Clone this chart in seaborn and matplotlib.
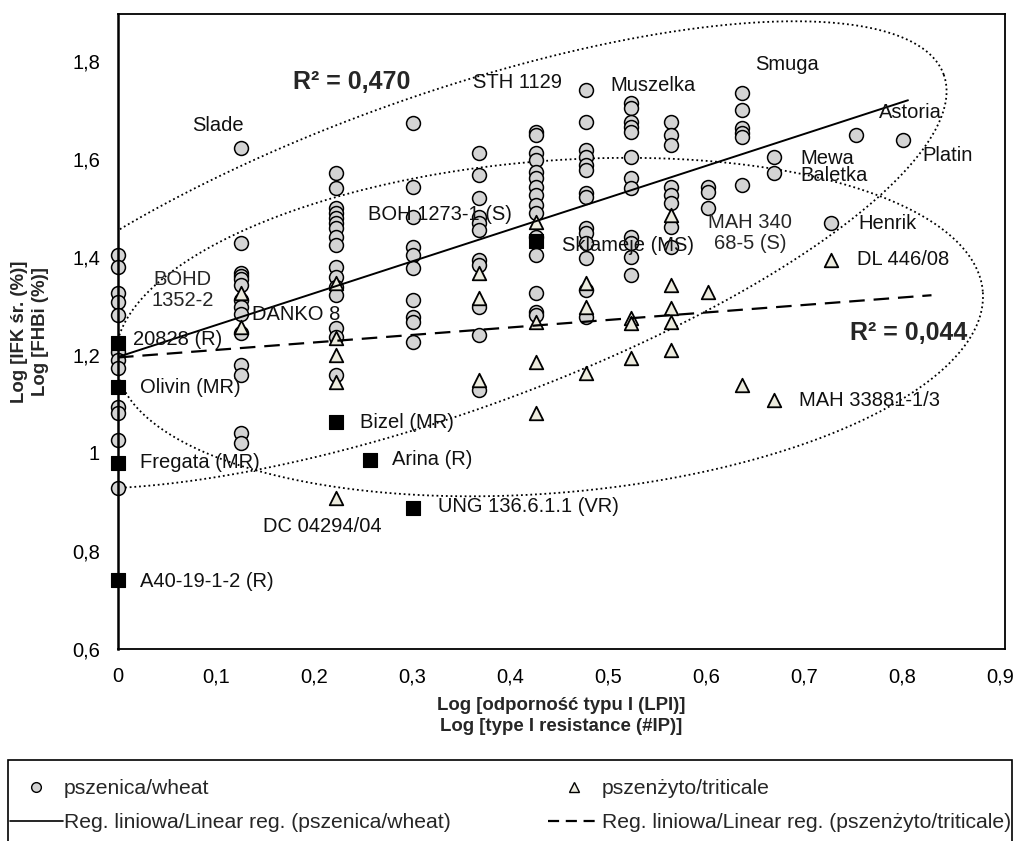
import numpy as np
import pandas as pd
import matplotlib
matplotlib.use("Agg")
import matplotlib.pyplot as plt
from matplotlib import font_manager
from matplotlib.lines import Line2D
from matplotlib.patches import Rectangle
from matplotlib.ticker import FuncFormatter, MultipleLocator
import seaborn as sns

# wheat: x levels and the y values read in each column
wheat_x_levels = [0, 0.125, 0.222, 0.301, 0.368, 0.426, 0.477, 0.523, 0.564,
                  0.602, 0.637, 0.669, 0.727, 0.753, 0.801]
wheat_y = [
    [1.404, 1.380, 1.327, 1.308, 1.282, 1.206, 1.190, 1.173, 1.094, 1.082, 1.027, 0.929],
    [1.622, 1.429, 1.367, 1.362, 1.355, 1.343, 1.312, 1.298, 1.284, 1.245, 1.180, 1.159, 1.041, 1.020],
    [1.571, 1.541, 1.500, 1.490, 1.480, 1.469, 1.459, 1.441, 1.424, 1.380, 1.359, 1.339, 1.322, 1.255, 1.237, 1.159],
    [1.673, 1.543, 1.482, 1.420, 1.404, 1.378, 1.312, 1.278, 1.267, 1.227],
    [1.612, 1.567, 1.520, 1.482, 1.469, 1.455, 1.394, 1.384, 1.298, 1.241, 1.129],
    [1.655, 1.649, 1.612, 1.598, 1.573, 1.561, 1.543, 1.527, 1.506, 1.490, 1.441, 1.404, 1.327, 1.288, 1.282],
    [1.741, 1.676, 1.618, 1.604, 1.588, 1.578, 1.531, 1.522, 1.459, 1.449, 1.429, 1.398, 1.333, 1.278],
    [1.714, 1.704, 1.676, 1.665, 1.655, 1.604, 1.561, 1.541, 1.441, 1.429, 1.400, 1.363],
    [1.676, 1.649, 1.629, 1.543, 1.527, 1.510, 1.461, 1.420],
    [1.543, 1.533, 1.500],
    [1.735, 1.700, 1.663, 1.653, 1.645, 1.547],
    [1.604, 1.571],
    [1.469],
    [1.649],
    [1.639],
]

# triticale
trit_x_levels = [0.125, 0.222, 0.368, 0.426, 0.477, 0.523, 0.564, 0.602, 0.637, 0.669, 0.727]
trit_y = [
    [1.327, 1.257],
    [1.347, 1.235, 1.200, 1.145, 0.908],
    [1.367, 1.316, 1.149],
    [1.471, 1.267, 1.186, 1.082],
    [1.347, 1.298, 1.163],
    [1.276, 1.265, 1.194],
    [1.486, 1.343, 1.296, 1.267, 1.210],
    [1.329],
    [1.139],
    [1.108],
    [1.394],
]

# reference genotypes (black squares)
ref_x = [0, 0, 0, 0, 0.222, 0.257, 0.301, 0.426]
ref_y = [1.224, 1.135, 0.980, 0.741, 1.063, 0.986, 0.888, 1.432]

# linear fits: intercept, slope, x range
wheat_fit = [1.196, 0.65]
wheat_fit_range = [0, 0.806]
trit_fit = [1.195, 0.153]
trit_fit_range = [0, 0.83]

wheat = pd.DataFrame({"x": np.repeat(wheat_x_levels, [len(v) for v in wheat_y]),
                      "y": np.concatenate(wheat_y)})
trit = pd.DataFrame({"x": np.repeat(trit_x_levels, [len(v) for v in trit_y]),
                     "y": np.concatenate(trit_y)})
refs = pd.DataFrame({"x": ref_x, "y": ref_y})

sns.set_style("white")
names = {f.name for f in font_manager.fontManager.ttflist}
narrow = "Liberation Sans Narrow" if "Liberation Sans Narrow" in names else "Liberation Sans"
plt.rcParams["font.family"] = ["Liberation Sans", "DejaVu Sans"]

fig = plt.figure(figsize=(10.2, 8.41), dpi=100)
ax = fig.add_axes([0.1157, 0.2283, 0.8696, 0.7551])
ax.set_xlim(0, 0.905)
ax.set_ylim(0.6, 1.896)

wheat_fill = "#d4d4d4"
trit_fill = "#ecebde"

sns.scatterplot(data=wheat, x="x", y="y", marker="o", s=100, color=wheat_fill,
                edgecolor="black", linewidth=1.1, ax=ax, zorder=3, clip_on=False)
sns.scatterplot(data=trit, x="x", y="y", marker="^", s=95, color=trit_fill,
                edgecolor="black", linewidth=1.3, ax=ax, zorder=4, clip_on=False)
sns.scatterplot(data=refs, x="x", y="y", marker="s", s=95, color="black",
                edgecolor="black", linewidth=0.8, ax=ax, zorder=5, clip_on=False)

fx = np.array(wheat_fit_range)
ax.plot(fx, wheat_fit[0] + wheat_fit[1] * fx, color="black", lw=1.4, zorder=6)
tx = np.array(trit_fit_range)
ax.plot(tx, trit_fit[0] + trit_fit[1] * tx, color="black", lw=1.6,
        linestyle=(0, (7, 4)), zorder=6)

# dotted ellipses, defined in pixel units so that the tilt looks right
sx = 0.8696 * 1020 / 0.905
sy = 0.7551 * 841 / (1.896 - 0.6)


def ellipse(cx, cy, a, b, ang):
    t = np.linspace(0, 2 * np.pi, 400)
    th = np.deg2rad(ang)
    ex = cx + (a * np.cos(t) * np.cos(th) - b * np.sin(t) * np.sin(th)) / sx
    ey = cy + (a * np.cos(t) * np.sin(th) + b * np.sin(t) * np.cos(th)) / sy
    return ex, ey


for c in [(0.3286, 1.404, 535, 158, 19.7), (0.440, 1.257, 435, 166, 4.7)]:
    ex, ey = ellipse(*c)
    ax.plot(ex, ey, color="black", lw=1.3, linestyle=(0, (1, 1.6)), zorder=2)

labels = [
    ("Slade", 0.0755, 1.669), ("STH 1129", 0.362, 1.757), ("Muszelka", 0.502, 1.751),
    ("Smuga", 0.650, 1.792), ("Astoria", 0.776, 1.694), ("Mewa", 0.696, 1.602),
    ("Baletka", 0.696, 1.567), ("Platin", 0.821, 1.608), ("Henrik", 0.755, 1.469),
    ("DL 446/08", 0.754, 1.394), ("MAH 33881-1/3", 0.695, 1.108),
    ("Sklameje (MS)", 0.453, 1.424), ("BOH 1273-1 (S)", 0.255, 1.486),
    ("DANKO 8", 0.137, 1.282), ("20828 (R)", 0.015, 1.231), ("Olivin (MR)", 0.022, 1.133),
    ("Fregata (MR)", 0.022, 0.980), ("A40-19-1-2 (R)", 0.022, 0.737),
    ("Bizel (MR)", 0.247, 1.063), ("Arina (R)", 0.280, 0.986),
    ("UNG 136.6.1.1 (VR)", 0.326, 0.890), ("DC 04294/04", 0.148, 0.849),
]
for txt, x, y in labels:
    ax.text(x, y, txt, fontsize=14.5, ha="left", va="center", color="#111111", zorder=7)
ax.text(0.066, 1.333, "BOHD\n1352-2", fontsize=14.5, ha="center", va="center",
        linespacing=1.1, zorder=7)
ax.text(0.645, 1.449, "MAH 340\n68-5 (S)", fontsize=14.5, ha="center", va="center",
        linespacing=1.1, zorder=7)
ax.text(0.179, 1.757, "R² = 0,470", fontsize=18, fontweight="bold", ha="left", va="center")
ax.text(0.747, 1.245, "R² = 0,044", fontsize=18, fontweight="bold", ha="left", va="center")

ax.xaxis.set_major_locator(MultipleLocator(0.1))
ax.yaxis.set_major_locator(MultipleLocator(0.2))
comma = FuncFormatter(lambda v, p: f"{round(v, 2):g}".replace(".", ","))
ax.xaxis.set_major_formatter(comma)
ax.yaxis.set_major_formatter(comma)
ax.tick_params(direction="inout", length=10, width=1.2, labelsize=14.5, colors="black")
ax.tick_params(axis="x", pad=8)
ax.tick_params(axis="y", pad=8)
for s in ax.spines.values():
    s.set_color("black")
    s.set_linewidth(1.3)
ax.spines["left"].set_linewidth(1.8)
ax.spines["left"].set_zorder(8)

ax.set_xlabel("Log [odporność typu I (LPI)]\nLog [type I resistance (#IP)]",
              fontsize=13.4, fontweight="bold", family=[narrow, "DejaVu Sans"],
              va="center", linespacing=1.3)
ax.xaxis.set_label_coords(0.5, -0.1055)
ax.set_ylabel("Log [IFK śr. (%)]\nLog [FHBi (%)]", fontsize=13.4, fontweight="bold",
              family=[narrow, "DejaVu Sans"], va="center", ha="center", linespacing=1.3)
ax.yaxis.set_label_coords(-0.099, 0.5)

handles = [
    Line2D([], [], marker="o", linestyle="none", markersize=7, markerfacecolor=wheat_fill,
           markeredgecolor="black", markeredgewidth=1.0),
    Line2D([], [], color="black", lw=1.2),
    Line2D([], [], marker="^", linestyle="none", markersize=7, markerfacecolor=trit_fill,
           markeredgecolor="black", markeredgewidth=1.0),
    Line2D([], [], color="black", lw=1.6, linestyle=(0, (5, 3))),
]
texts = ["pszenica/wheat", "Reg. liniowa/Linear reg. (pszenica/wheat)",
         "pszenżyto/triticale", "Reg. liniowa/Linear reg. (pszenżyto/triticale)"]
leg = fig.legend(handles, texts, loc="upper left", bbox_to_anchor=(10 / 1020, 1 - 779 / 841),
                 ncol=2, frameon=False, borderaxespad=0, borderpad=0,
                 handlelength=2.5, handletextpad=0.05, labelspacing=0.72, columnspacing=4.6,
                 prop={"family": [narrow, "DejaVu Sans"], "size": 15.2})
# legend box drawn separately so it can span the full width
fig.patches.append(Rectangle((8 / 1020, -0.01), 1004 / 1020, 0.01 + 81 / 841,
                             transform=fig.transFigure, fill=False, edgecolor="black",
                             linewidth=1.2))

fig.savefig("out.png", dpi=100, facecolor="white")
